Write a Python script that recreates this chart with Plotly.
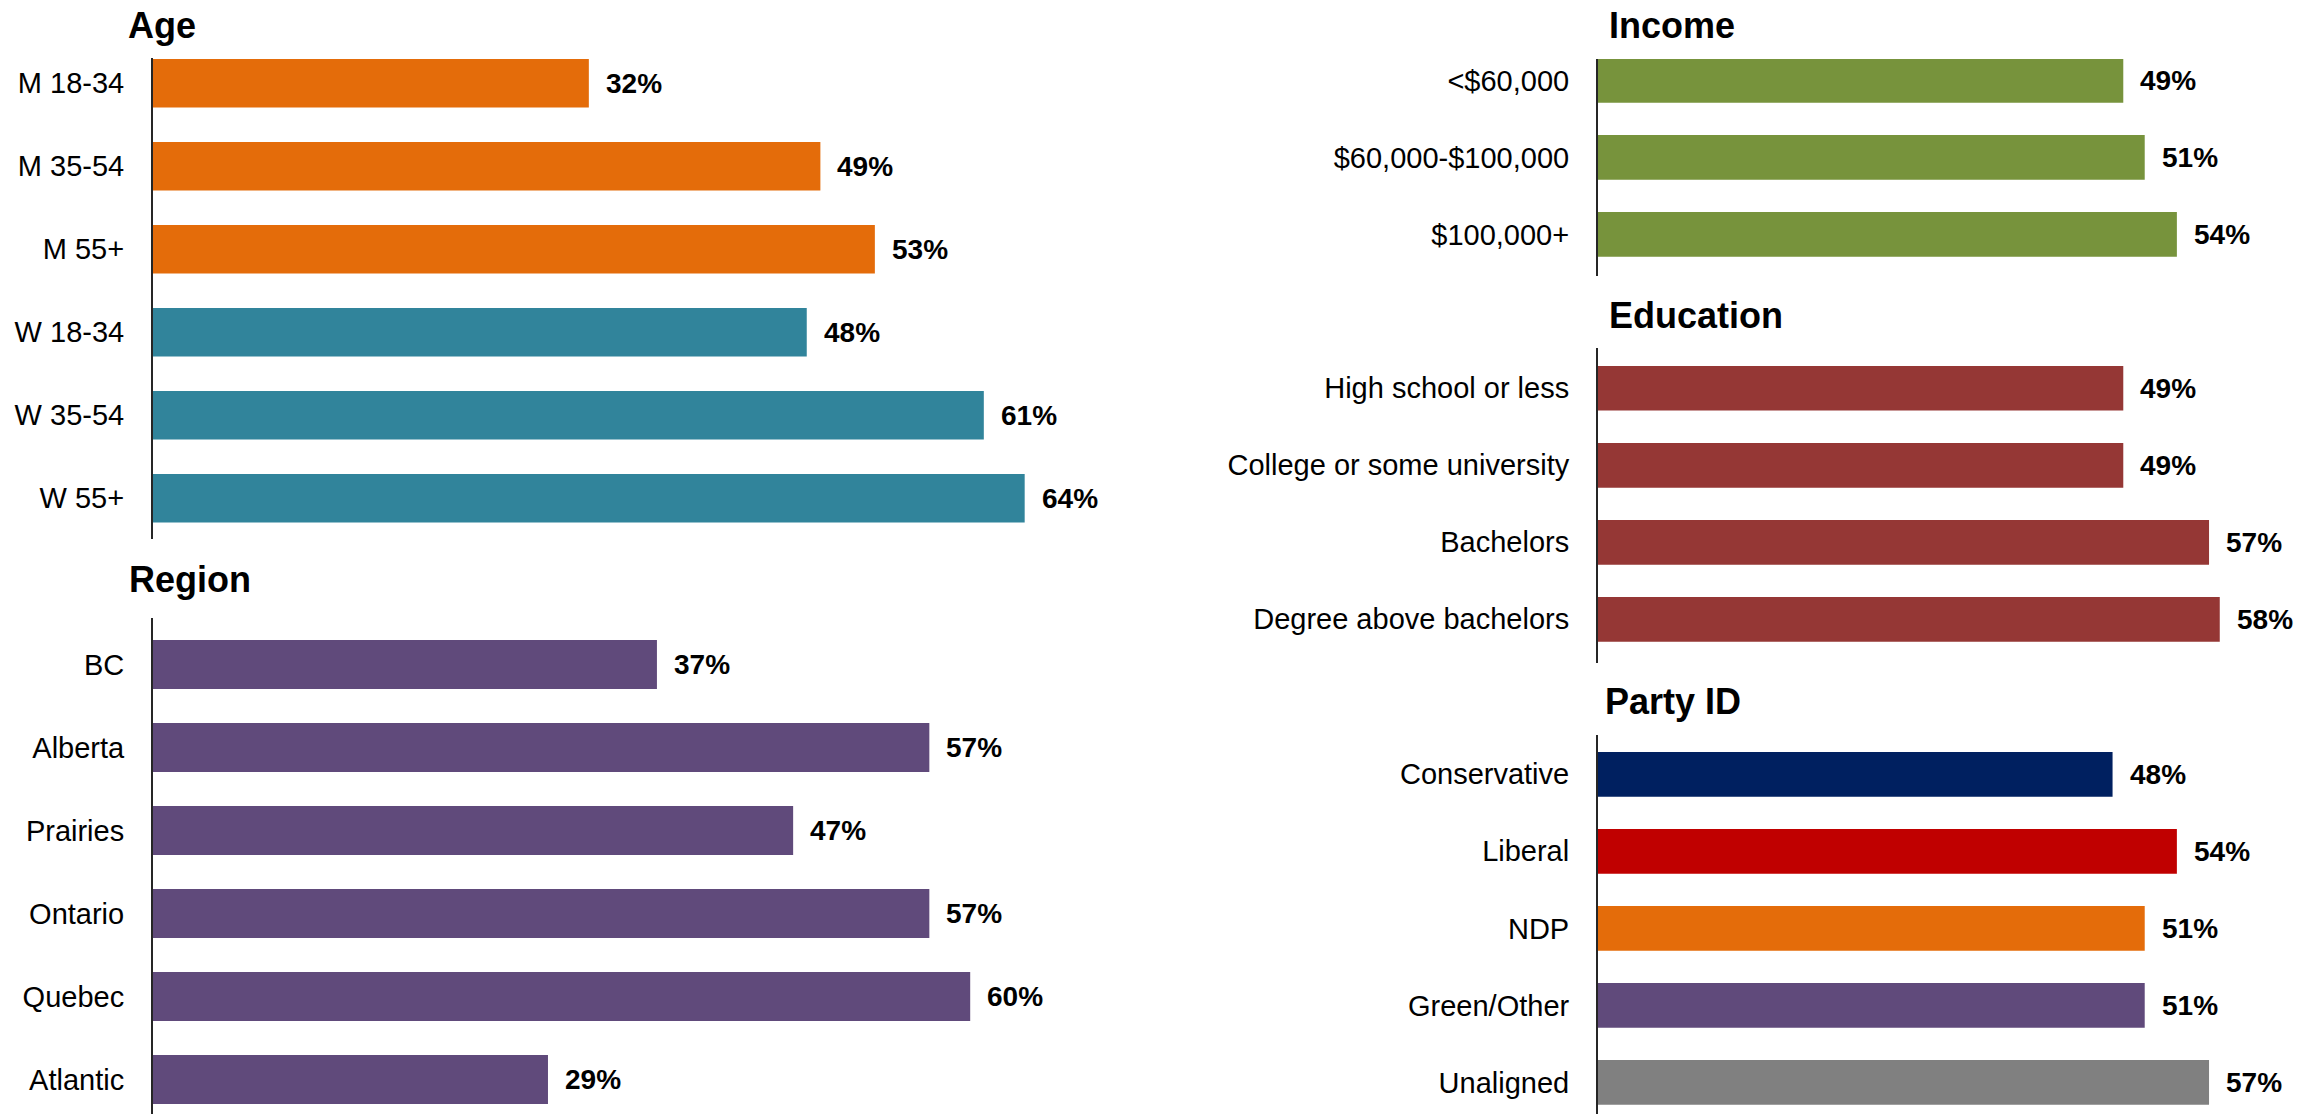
import plotly.graph_objects as go

# ---- data ----------------------------------------------------------------
age_labels = ["M 18-34", "M 35-54", "M 55+", "W 18-34", "W 35-54", "W 55+"]
age_values = [32, 49, 53, 48, 61, 64]

region_labels = ["BC", "Alberta", "Prairies", "Ontario", "Quebec", "Atlantic"]
region_values = [37, 57, 47, 57, 60, 29]

income_labels = ["<$60,000", "$60,000-$100,000", "$100,000+"]
income_values = [49, 51, 54]

education_labels = ["High school or less", "College or some university",
                    "Bachelors", "Degree above bachelors"]
education_values = [49, 49, 57, 58]

party_labels = ["Conservative", "Liberal", "NDP", "Green/Other", "Unaligned"]
party_values = [48, 54, 51, 51, 57]

# ---- styling ---------------------------------------------------------------
ORANGE, TEAL, PURPLE = "#E46C0A", "#31849B", "#604A7B"
GREEN, BRICK = "#77933C", "#953735"
NAVY, RED, GREY = "#002060", "#C00000", "#808080"

age_colors = [ORANGE] * 3 + [TEAL] * 3
region_colors = [PURPLE] * 6
income_colors = [GREEN] * 3
education_colors = [BRICK] * 4
party_colors = [NAVY, RED, ORANGE, PURPLE, GREY]

W, H = 2315, 1114
FONT = "Liberation Sans, Arial, sans-serif"
AXIS_COLOR = "#262626"

# each panel: pixel box of the category axis, the x-scale (px per percent),
# the category-index range shown, and the title placement
panels = [
    dict(title="Age", labels=age_labels, values=age_values, colors=age_colors,
         x0=153, x1=1150, ppp=13.62, top=58, bottom=539,
         yr=(5.49, -0.304), bw=0.585, tx=126, ty=25),
    dict(title="Region", labels=region_labels, values=region_values, colors=region_colors,
         x0=153, x1=1150, ppp=13.62, top=618, bottom=1114,
         yr=(5.416, -0.56), bw=0.59, tx=127, ty=579),
    dict(title="Income", labels=income_labels, values=income_values, colors=income_colors,
         x0=1598, x1=2315, ppp=10.72, top=59, bottom=276,
         yr=(2.54, -0.278), bw=0.58, tx=1607, ty=25),
    dict(title="Education", labels=education_labels, values=education_values,
         colors=education_colors,
         x0=1598, x1=2315, ppp=10.72, top=348, bottom=663,
         yr=(3.567, -0.523), bw=0.58, tx=1607, ty=315),
    dict(title="Party ID", labels=party_labels, values=party_values, colors=party_colors,
         x0=1598, x1=2315, ppp=10.72, top=735, bottom=1114,
         yr=(4.41, -0.51), bw=0.58, tx=1603, ty=701),
]

fig = go.Figure()
layout = dict(
    width=W, height=H,
    margin=dict(l=0, r=0, t=0, b=0),
    paper_bgcolor="white", plot_bgcolor="white",
    showlegend=False,
    font=dict(family=FONT, color="black"),
    annotations=[],
)

for i, p in enumerate(panels, start=1):
    xa, ya = f"x{i}", f"y{i}"
    fig.add_trace(go.Bar(
        orientation="h", x=p["values"], y=p["labels"],
        marker=dict(color=p["colors"], line=dict(width=0)),
        width=p["bw"], xaxis=xa, yaxis=ya, hoverinfo="skip",
    ))
    layout[f"xaxis{i}"] = dict(
        domain=[p["x0"] / W, p["x1"] / W],
        range=[0, (p["x1"] - p["x0"]) / p["ppp"]],
        anchor=ya, visible=False, fixedrange=True,
    )
    layout[f"yaxis{i}"] = dict(
        domain=[1 - p["bottom"] / H, 1 - p["top"] / H],
        type="category", categoryorder="array", categoryarray=p["labels"],
        range=list(p["yr"]), anchor=xa,
        showline=True, linecolor=AXIS_COLOR, linewidth=2,
        showgrid=False, zeroline=False, ticks="",
        ticklabelstandoff=21,
        tickfont=dict(family=FONT, size=29, color="black"),
        fixedrange=True,
    )
    # value labels to the right of each bar
    for lab, val in zip(p["labels"], p["values"]):
        layout["annotations"].append(dict(
            x=val, y=lab, xref=xa, yref=ya,
            text=f"{val}%", showarrow=False,
            xanchor="left", yanchor="middle", xshift=15,
            font=dict(family=FONT, size=28, color="black", weight="bold"),
        ))
    # panel heading
    layout["annotations"].append(dict(
        x=p["tx"] / W, y=1 - p["ty"] / H, xref="paper", yref="paper",
        text=p["title"], showarrow=False,
        xanchor="left", yanchor="middle",
        font=dict(family=FONT, size=36, color="black", weight="bold"),
    ))

fig.update_layout(**layout)
fig.write_html("out.html")
